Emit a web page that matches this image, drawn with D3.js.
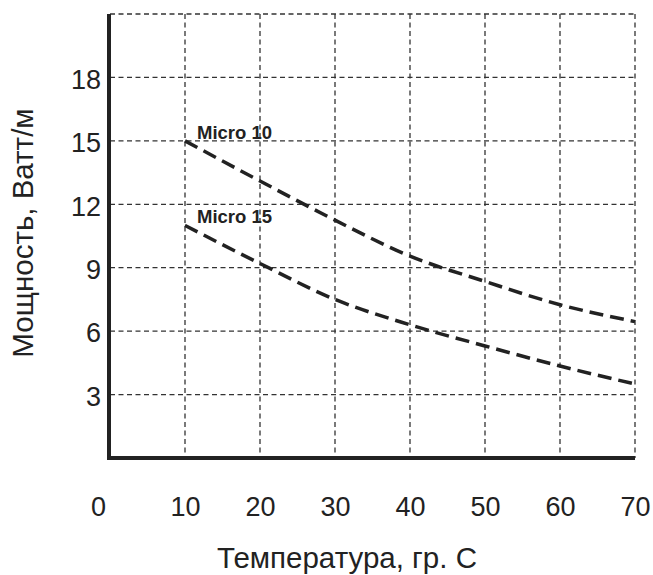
<!DOCTYPE html>
<html>
<head>
<meta charset="utf-8">
<script src="https://cdn.jsdelivr.net/npm/d3@7"></script>
<style>
  body { margin: 0; background: #fff; }
  svg text { font-family: "Liberation Sans", Arial, sans-serif; fill: #222; }
</style>
</head>
<body>
<svg id="chart" width="653" height="575"></svg>
<script>
"use strict";

var temps = [10, 20, 30, 40, 50, 60, 70],
    micro10 = [15, 13.1, 11.25, 9.55, 8.35, 7.25, 6.45],
    micro15 = [11, 9.2, 7.5, 6.3, 5.3, 4.35, 3.5],
    seriesNames = ["Micro 10", "Micro 15"],
    xTicks = [0, 10, 20, 30, 40, 50, 60, 70],
    yTicks = [3, 6, 9, 12, 15, 18],
    xTitle = "Температура, гр. С",
    yTitle = "Мощность, Ватт/м";

(function(){
    var svg = d3.select("#chart"),
        x = d3.scaleLinear().domain([0, 70]).range([110, 635]),
        y = d3.scaleLinear().domain([0, 21]).range([458, 14]),
        ink = "#222";

    // grid
    var grid = svg.append("g")
        .attr("stroke", "#333")
        .attr("stroke-width", 1.3)
        .attr("stroke-dasharray", "5,3.5");

    grid.selectAll("line.h")
        .data(yTicks.concat([21]))
        .enter().append("line")
        .attr("x1", x(0)).attr("x2", x(70))
        .attr("y1", function(d){ return y(d); })
        .attr("y2", function(d){ return y(d); });

    grid.selectAll("line.v")
        .data(xTicks.slice(1))
        .enter().append("line")
        .attr("y1", y(21)).attr("y2", y(0))
        .attr("x1", function(d){ return x(d); })
        .attr("x2", function(d){ return x(d); });

    // axes (no tick marks, just the thick lines)
    var yAxis = svg.append("g")
        .attr("transform", "translate(" + x(0) + ",0)")
        .call(d3.axisLeft(y).tickValues(yTicks).tickSize(0).tickPadding(9));
    yAxis.select(".domain").remove();
    yAxis.selectAll("text")
        .attr("font-size", 27)
        .attr("fill", ink)
        .attr("font-family", "Liberation Sans, Arial, sans-serif")
        .attr("dy", "0.4em");

    var xAxis = svg.append("g")
        .attr("transform", "translate(0," + y(0) + ")")
        .call(d3.axisBottom(x).tickValues(xTicks).tickSize(0).tickPadding(39));
    xAxis.select(".domain").remove();
    xAxis.selectAll("text")
        .attr("font-size", 27)
        .attr("fill", ink)
        .attr("font-family", "Liberation Sans, Arial, sans-serif")
        .attr("dx", function(d){ return d === 0 ? -12 : 0; });

    svg.append("line")
        .attr("x1", x(0) - 1).attr("x2", x(0) - 1)
        .attr("y1", y(21)).attr("y2", y(0) + 2)
        .attr("stroke", ink).attr("stroke-width", 4);
    svg.append("line")
        .attr("x1", x(0) - 3).attr("x2", x(70))
        .attr("y1", y(0)).attr("y2", y(0))
        .attr("stroke", ink).attr("stroke-width", 4);

    // curves
    var line = d3.line()
        .x(function(d){ return x(d[0]); })
        .y(function(d){ return y(d[1]); })
        .curve(d3.curveMonotoneX);

    [micro10, micro15].forEach(function(vals, i){
        var pts = temps.map(function(t, j){ return [t, vals[j]]; });
        svg.append("path")
            .attr("d", line(pts))
            .attr("fill", "none")
            .attr("stroke", ink)
            .attr("stroke-width", 3.5)
            .attr("stroke-dasharray", "14,7");

        svg.append("text")
            .attr("x", x(temps[0]) + 12)
            .attr("y", y(vals[0]) - 2)
            .attr("font-size", 18.5)
            .attr("font-weight", "bold")
            .text(seriesNames[i]);
    });

    // titles
    svg.append("text")
        .attr("x", 347).attr("y", 568)
        .attr("text-anchor", "middle")
        .attr("font-size", 29.5)
        .text(xTitle);

    svg.append("text")
        .attr("transform", "translate(33,233) rotate(-90)")
        .attr("text-anchor", "middle")
        .attr("font-size", 29.5)
        .text(yTitle);
})();
</script>
</body>
</html>
